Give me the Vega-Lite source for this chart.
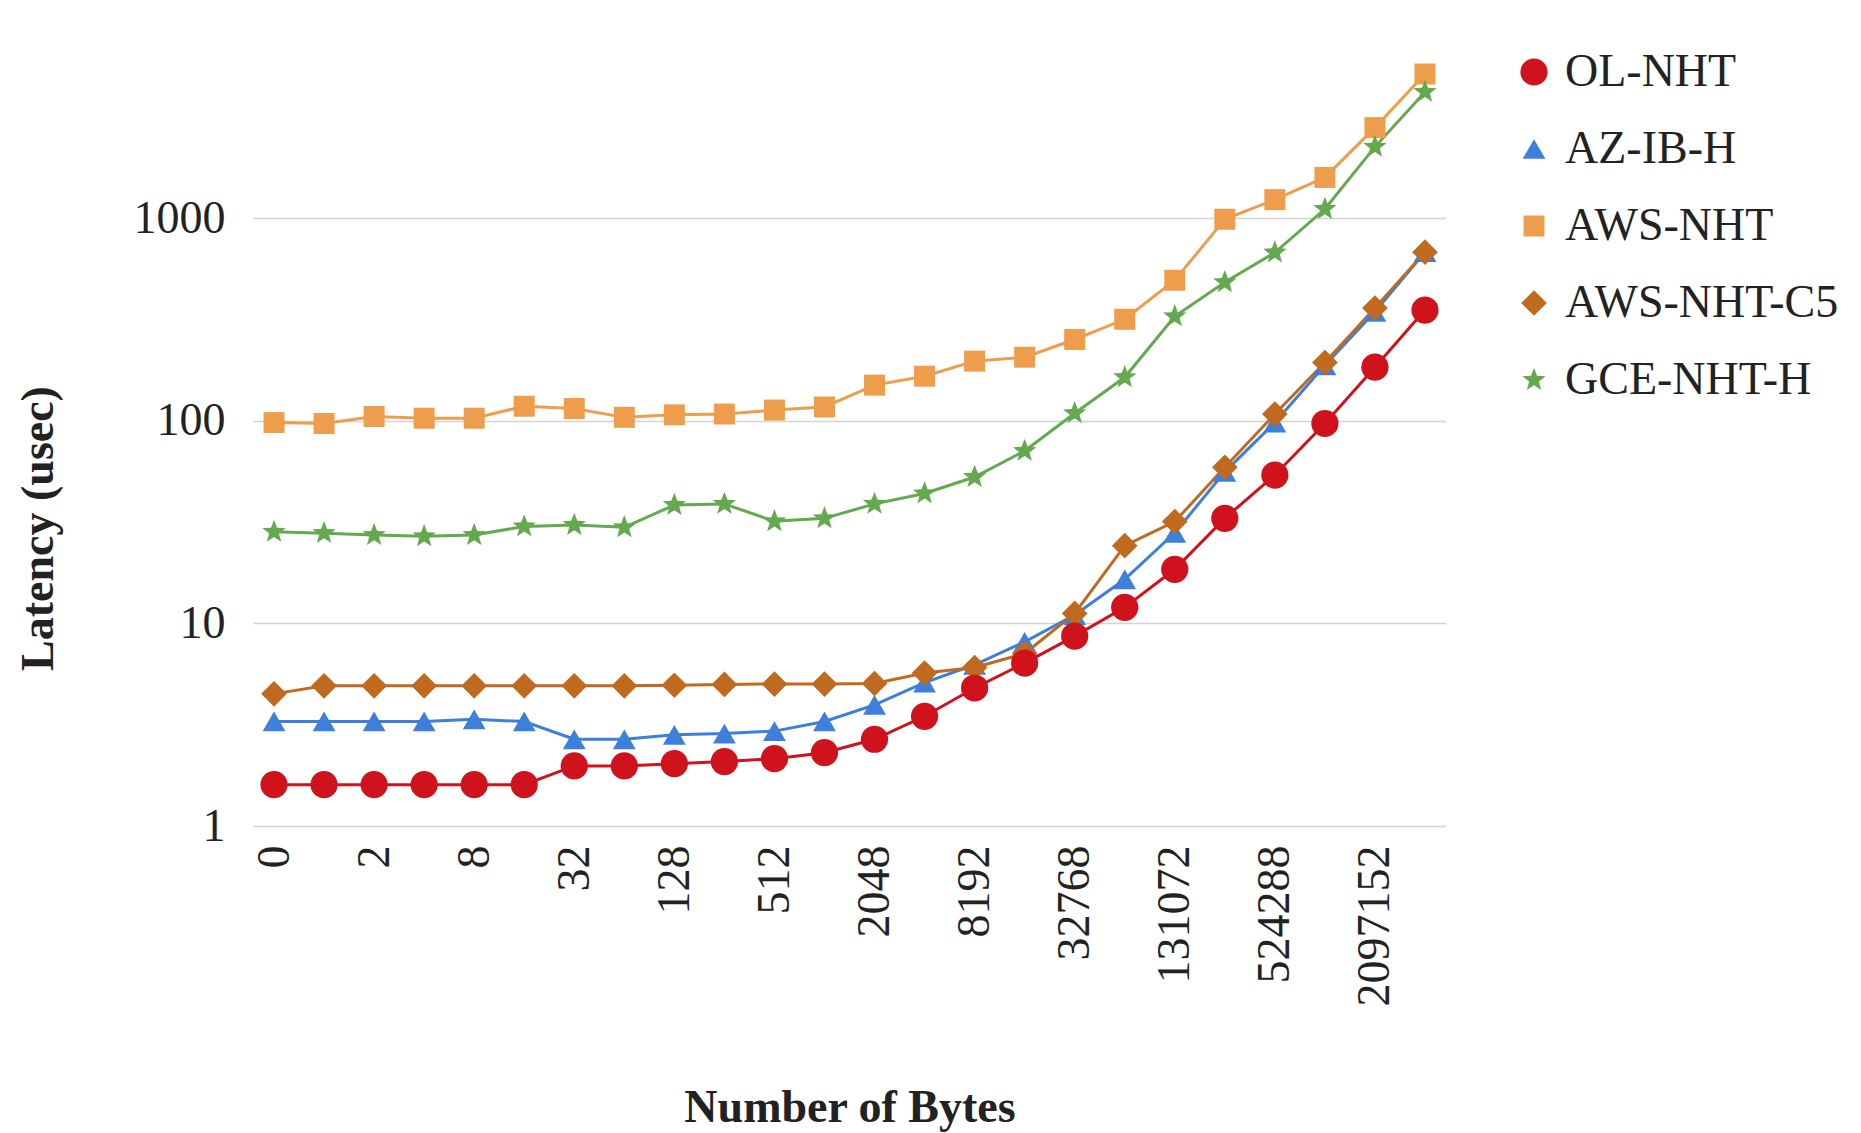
{
  "$schema": "https://vega.github.io/schema/vega-lite/v6.json",
  "width": 1193,
  "height": 779,
  "autosize": "none",
  "padding": {"left": 253, "top": 47, "right": 415, "bottom": 307},
  "background": "white",
  "config": {"font": "Liberation Serif", "view": {"stroke": null}},
  "data": {"values": [
    {"bytes": "0", "OL-NHT": 1.6, "AZ-IB-H": 3.28, "AWS-NHT": 98, "AWS-NHT-C5": 4.49, "GCE-NHT-H": 28.3},
    {"bytes": "1", "OL-NHT": 1.6, "AZ-IB-H": 3.28, "AWS-NHT": 97, "AWS-NHT-C5": 4.92, "GCE-NHT-H": 27.9},
    {"bytes": "2", "OL-NHT": 1.6, "AZ-IB-H": 3.28, "AWS-NHT": 105, "AWS-NHT-C5": 4.92, "GCE-NHT-H": 27.3},
    {"bytes": "4", "OL-NHT": 1.6, "AZ-IB-H": 3.28, "AWS-NHT": 103, "AWS-NHT-C5": 4.92, "GCE-NHT-H": 26.9},
    {"bytes": "8", "OL-NHT": 1.6, "AZ-IB-H": 3.36, "AWS-NHT": 103, "AWS-NHT-C5": 4.92, "GCE-NHT-H": 27.3},
    {"bytes": "16", "OL-NHT": 1.6, "AZ-IB-H": 3.28, "AWS-NHT": 118, "AWS-NHT-C5": 4.92, "GCE-NHT-H": 30.1},
    {"bytes": "32", "OL-NHT": 1.98, "AZ-IB-H": 2.68, "AWS-NHT": 115, "AWS-NHT-C5": 4.92, "GCE-NHT-H": 30.6},
    {"bytes": "64", "OL-NHT": 1.98, "AZ-IB-H": 2.68, "AWS-NHT": 104, "AWS-NHT-C5": 4.92, "GCE-NHT-H": 29.8},
    {"bytes": "128", "OL-NHT": 2.03, "AZ-IB-H": 2.82, "AWS-NHT": 107, "AWS-NHT-C5": 4.95, "GCE-NHT-H": 38.4},
    {"bytes": "256", "OL-NHT": 2.08, "AZ-IB-H": 2.86, "AWS-NHT": 108, "AWS-NHT-C5": 5.0, "GCE-NHT-H": 38.9},
    {"bytes": "512", "OL-NHT": 2.15, "AZ-IB-H": 2.94, "AWS-NHT": 113, "AWS-NHT-C5": 5.02, "GCE-NHT-H": 31.9},
    {"bytes": "1024", "OL-NHT": 2.3, "AZ-IB-H": 3.28, "AWS-NHT": 117, "AWS-NHT-C5": 5.02, "GCE-NHT-H": 33},
    {"bytes": "2048", "OL-NHT": 2.68, "AZ-IB-H": 3.96, "AWS-NHT": 150, "AWS-NHT-C5": 5.05, "GCE-NHT-H": 38.9},
    {"bytes": "4096", "OL-NHT": 3.48, "AZ-IB-H": 5.1, "AWS-NHT": 166, "AWS-NHT-C5": 5.69, "GCE-NHT-H": 43.8},
    {"bytes": "8192", "OL-NHT": 4.8, "AZ-IB-H": 6.25, "AWS-NHT": 197, "AWS-NHT-C5": 6.06, "GCE-NHT-H": 52.8},
    {"bytes": "16384", "OL-NHT": 6.37, "AZ-IB-H": 8.1, "AWS-NHT": 206, "AWS-NHT-C5": 7.1, "GCE-NHT-H": 71},
    {"bytes": "32768", "OL-NHT": 8.65, "AZ-IB-H": 11, "AWS-NHT": 252, "AWS-NHT-C5": 11.2, "GCE-NHT-H": 109},
    {"bytes": "65536", "OL-NHT": 12.0, "AZ-IB-H": 16.5, "AWS-NHT": 317, "AWS-NHT-C5": 24.2, "GCE-NHT-H": 164},
    {"bytes": "131072", "OL-NHT": 18.5, "AZ-IB-H": 28, "AWS-NHT": 494, "AWS-NHT-C5": 31.8, "GCE-NHT-H": 328},
    {"bytes": "262144", "OL-NHT": 33, "AZ-IB-H": 56, "AWS-NHT": 988, "AWS-NHT-C5": 59, "GCE-NHT-H": 483},
    {"bytes": "524288", "OL-NHT": 54, "AZ-IB-H": 98, "AWS-NHT": 1235, "AWS-NHT-C5": 108, "GCE-NHT-H": 677},
    {"bytes": "1048576", "OL-NHT": 97, "AZ-IB-H": 188, "AWS-NHT": 1590, "AWS-NHT-C5": 194, "GCE-NHT-H": 1110},
    {"bytes": "2097152", "OL-NHT": 184, "AZ-IB-H": 345, "AWS-NHT": 2800, "AWS-NHT-C5": 360, "GCE-NHT-H": 2250},
    {"bytes": "4194304", "OL-NHT": 352, "AZ-IB-H": 680, "AWS-NHT": 5150, "AWS-NHT-C5": 680, "GCE-NHT-H": 4200}
  ]},
  "transform": [
    {"fold": ["AWS-NHT", "GCE-NHT-H", "AZ-IB-H", "AWS-NHT-C5", "OL-NHT"], "as": ["series", "latency"]}
  ],
  "encoding": {
    "x": {
      "field": "bytes",
      "type": "ordinal",
      "title": "Number of Bytes",
      "scale": {
        "type": "point",
        "padding": 0.42,
        "domain": ["0","1","2","4","8","16","32","64","128","256","512","1024","2048","4096","8192","16384","32768","65536","131072","262144","524288","1048576","2097152","4194304"]
      },
      "axis": {
        "values": ["0","2","8","32","128","512","2048","8192","32768","131072","524288","2097152"],
        "labelAngle": -90,
        "labelFont": "Liberation Serif",
        "labelFontSize": 46,
        "labelColor": "#222222",
        "labelPadding": 19,
        "ticks": false,
        "tickSize": 0,
        "domain": false,
        "grid": false,
        "titleFont": "Liberation Serif",
        "titleFontSize": 46,
        "titleFontWeight": "bold",
        "titleColor": "#222222",
        "titleY": 281,
        "titleBaseline": "middle"
      }
    },
    "y": {
      "field": "latency",
      "type": "quantitative",
      "title": "Latency (usec)",
      "scale": {"type": "log", "domain": [1, 7000], "nice": false},
      "axis": {
        "values": [1, 10, 100, 1000],
        "format": "d",
        "labelFont": "Liberation Serif",
        "labelFontSize": 46,
        "labelColor": "#222222",
        "labelPadding": 28,
        "ticks": false,
        "tickSize": 0,
        "domain": false,
        "grid": true,
        "gridColor": "#d4d4d4",
        "gridWidth": 1.5,
        "titleFont": "Liberation Serif",
        "titleFontSize": 46,
        "titleFontWeight": "bold",
        "titleColor": "#222222",
        "titleAngle": 270,
        "titleX": -215,
        "titleY": 481,
        "titleAlign": "center",
        "titleBaseline": "middle"
      }
    }
  },
  "layer": [
    {
      "mark": {"type": "line", "strokeWidth": 3},
      "encoding": {
        "stroke": {
          "field": "series",
          "type": "nominal",
          "legend": null,
          "scale": {
            "domain": ["AWS-NHT", "GCE-NHT-H", "AZ-IB-H", "AWS-NHT-C5", "OL-NHT"],
            "range": ["#ee9d4c", "#64a94f", "#3d7fdb", "#bf6a1e", "#d0121c"]
          }
        },
        "detail": {"field": "series", "type": "nominal"}
      }
    },
    {
      "mark": {"type": "point", "filled": true, "opacity": 1, "strokeWidth": 0},
      "encoding": {
        "color": {
          "field": "series",
          "type": "nominal",
          "scale": {
            "domain": ["OL-NHT", "AZ-IB-H", "AWS-NHT", "AWS-NHT-C5", "GCE-NHT-H"],
            "range": ["#d0121c", "#3d7fdb", "#ee9d4c", "#bf6a1e", "#64a94f"]
          },
          "legend": {
            "title": null,
            "orient": "none",
            "legendX": 1258,
            "legendY": 2,
            "padding": 0,
            "labelFont": "Liberation Serif",
            "labelFontSize": 46,
            "labelColor": "#222222",
            "labelOffset": 8,
            "labelLimit": 0,
            "rowPadding": 31,
            "symbolStrokeWidth": 0
          }
        },
        "shape": {
          "field": "series",
          "type": "nominal",
          "scale": {
            "domain": ["OL-NHT", "AZ-IB-H", "AWS-NHT", "AWS-NHT-C5", "GCE-NHT-H"],
            "range": ["circle", "triangle-up", "square", "diamond", "M0,-1L0.247,-0.34L0.951,-0.309L0.399,0.13L0.588,0.809L0,0.42L-0.588,0.809L-0.399,0.13L-0.951,-0.309L-0.247,-0.34Z"]
          }
        },
        "size": {
          "field": "series",
          "type": "nominal",
          "scale": {
            "type": "ordinal",
            "domain": ["OL-NHT", "AZ-IB-H", "AWS-NHT", "AWS-NHT-C5", "GCE-NHT-H"],
            "range": [740, 520, 440, 660, 600]
          }
        }
      }
    }
  ]
}
